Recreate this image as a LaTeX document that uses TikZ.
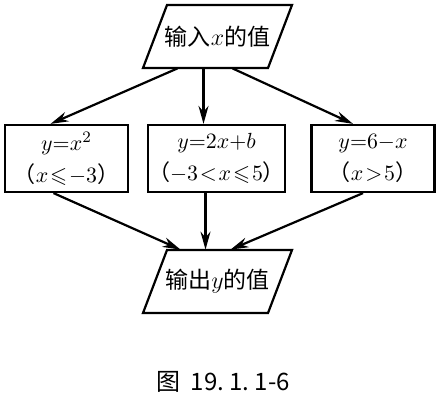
\documentclass[tikz,border=0pt]{standalone}
\usepackage{amssymb}
\usepackage{fontspec}
\newfontfamily\cjk{Noto Sans CJK SC}
\usetikzlibrary{arrows.meta,calc}
\thickmuskip=1.5mu\relax

\tikzset{
  box/.style={draw,line width=1.1pt,minimum width=61.5pt,minimum height=33.5pt,
    inner sep=0pt,align=center,font=\fontsize{11}{16}\selectfont},
  io/.style={minimum width=50pt,minimum height=31.5pt,inner sep=0pt,font=\fontsize{11.5}{12}\selectfont},
  flow/.style={->,line width=1.1pt},
}

\begin{document}
\begin{tikzpicture}[x=0.5pt,y=-0.5pt,>={Stealth[length=9pt,width=5pt]}]
  \useasboundingbox (0,0) rectangle (437,400);
  % input and output
  \draw[line width=1.1pt] (167,5) -- (292,5) -- (268,68) -- (143,68) -- cycle;
  \node[io] (in) at (217.5,36.5) {\cjk 输入$x$的值};
  \draw[line width=1.1pt] (167,250) -- (292,250) -- (268,313) -- (143,313) -- cycle;
  \node[io] (out) at (217.5,281.5) {\cjk 输出$y$的值};
  % the three cases
  \node[box] (b1) at (66.5,158.5) {$y{=}x^2$\\ {\cjk （}$x\leqslant{-}3${\cjk ）}};
  \node[box] (b2) at (216.5,158.5) {$y{=}2x{+}b$\\ {\cjk （}${-}3<x\leqslant5${\cjk ）}};
  \node[box] (b3) at (373,158.5) {$y{=}6{-}x$\\ {\cjk （}$x>5${\cjk ）}};
  \draw[flow] ($(in.south)+(-40,0)$) -- ($(b1.north)+(-16,0)$);
  \draw[flow] ($(in.south)+(-14,0)$) -- ($(b2.north)+(-13,0)$);
  \draw[flow] ($(in.south)+(15,0)$) -- ($(b3.north)+(-20,0)$);
  \draw[flow] ($(b1.south)+(-13,0)$) -- ($(out.north)+(-37,0)$);
  \draw[flow] ($(b2.south)+(-11,0)$) -- ($(out.north)+(-12,0)$);
  \draw[flow] ($(b3.south)+(-10,0)$) -- ($(out.north)+(13,0)$);
  \node[font=\fontsize{12}{14}\selectfont] (cap) at (223,382) {\cjk 图\ \ 19.\ 1.\ 1-6};
\end{tikzpicture}
\end{document}
